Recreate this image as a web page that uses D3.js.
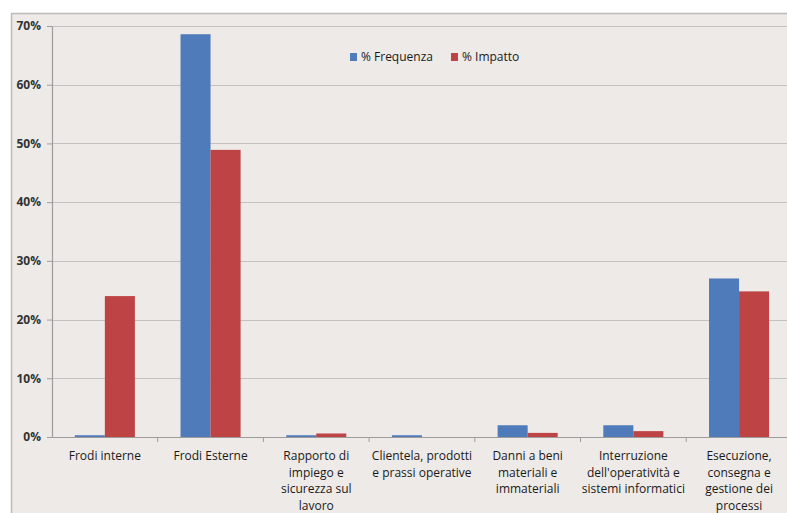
<!DOCTYPE html>
<html><head><meta charset="utf-8">
<script src="https://cdn.jsdelivr.net/npm/d3@7"></script>
<style>
html,body{margin:0;padding:0;background:#fff;}
svg{display:block;}
text{font-family:"Open Sans","Noto Sans",sans-serif;}
</style></head><body>
<script>
const categories = [
  ["Frodi interne"],
  ["Frodi Esterne"],
  ["Rapporto di","impiego e","sicurezza sul","lavoro"],
  ["Clientela, prodotti","e prassi operative"],
  ["Danni a beni","materiali e","immateriali"],
  ["Interruzione","dell'operatività e","sistemi informatici"],
  ["Esecuzione,","consegna e","gestione dei","processi"]
];
const seriesNames = ["% Frequenza", "% Impatto"];
const frequenza = [0.3, 68.6, 0.3, 0.3, 2.0, 2.0, 27.0];
const impatto   = [24.0, 48.9, 0.6, 0.0, 0.7, 1.0, 24.8];
const yTicks = [0,10,20,30,40,50,60,70];
const colors = ["#4F7BBA", "#BE4345"];

const W = 787, H = 513;
const svg = d3.select("body").append("svg").attr("width", W).attr("height", H);

// chart area background
svg.append("rect").attr("x", 11.5).attr("y", 13.5).attr("width", W).attr("height", H)
  .attr("fill", "#EDEAE7").attr("stroke", "#BDBBB9").attr("stroke-width", 1.5);

const x0 = 52, x1 = 52 + 7*105.7, yTop = 26, yBot = 437;
const x = d3.scaleBand().domain(d3.range(categories.length)).range([x0, x1]).padding(0);
const xs = d3.scaleBand().domain([0,1]).range([0, x.bandwidth()]).paddingInner(0).paddingOuter(0.76);
const y = d3.scaleLinear().domain([0, 70]).range([yBot, yTop]);

// gridlines
svg.append("g").selectAll("line").data(yTicks.filter(d => d > 0)).join("line")
  .attr("x1", x0).attr("x2", W).attr("y1", d => Math.round(y(d)) + 0.5).attr("y2", d => Math.round(y(d)) + 0.5)
  .attr("stroke", "#C4C2C0").attr("stroke-width", 1.2);

// y axis
const yAxis = d3.axisLeft(y).tickValues(yTicks).tickFormat(d => d + "%").tickSize(5).tickSizeOuter(0);
const gy = svg.append("g").attr("transform", `translate(${x0},0)`).call(yAxis);
gy.select(".domain").attr("stroke", "#9E9C9A").attr("stroke-width", 1.2);
gy.selectAll(".tick line").attr("stroke", "#9E9C9A");
gy.selectAll(".tick text").attr("x", -11).attr("fill", "#333").attr("font-size", 12).attr("font-weight", "bold")
  .attr("font-family", "'Liberation Sans', Arial, sans-serif");

// bars
const data = [frequenza, impatto];
data.forEach((vals, s) => {
  svg.append("g").selectAll("rect").data(vals).join("rect")
    .attr("x", (d, i) => x(i) + xs(s))
    .attr("width", xs.bandwidth())
    .attr("y", d => y(d))
    .attr("height", d => yBot - y(d))
    .attr("fill", colors[s]);
});

// x axis
const xAxis = d3.axisBottom(x).tickFormat("").tickSize(0).tickSizeOuter(0);
const gx = svg.append("g").attr("transform", `translate(0,${yBot})`).call(xAxis);
gx.select(".domain").attr("stroke", "#9E9C9A").attr("stroke-width", 1.2);
svg.append("g").selectAll("line").data(d3.range(1, categories.length)).join("line")
  .attr("x1", i => x(i)).attr("x2", i => x(i)).attr("y1", yBot).attr("y2", yBot + 5)
  .attr("stroke", "#9E9C9A");

// category labels
const lab = svg.append("g").selectAll("text").data(categories).join("text")
  .attr("text-anchor", "middle").attr("font-size", 12).attr("fill", "#1a1a1a")
  .attr("font-family", "'Open Sans', 'Noto Sans', sans-serif")
  .attr("transform", (d, i) => `translate(${x(i) + x.bandwidth()/2},${yBot + 23})`);
lab.selectAll("tspan").data(d => d).join("tspan")
  .attr("x", 0).attr("dy", (d, j) => j === 0 ? 0 : 16.7).text(d => d);

// legend
const legend = svg.append("g").attr("transform", "translate(350,57)");
const lx = [0, 101];
seriesNames.forEach((n, i) => {
  legend.append("rect").attr("x", lx[i]).attr("y", -4).attr("width", 7).attr("height", 8).attr("fill", colors[i]);
  legend.append("text").attr("x", lx[i] + 11).attr("y", 4).attr("font-size", 12).attr("fill", "#1a1a1a")
    .attr("font-family", "'Open Sans', 'Noto Sans', sans-serif").text(n);
});
</script>
</body></html>
